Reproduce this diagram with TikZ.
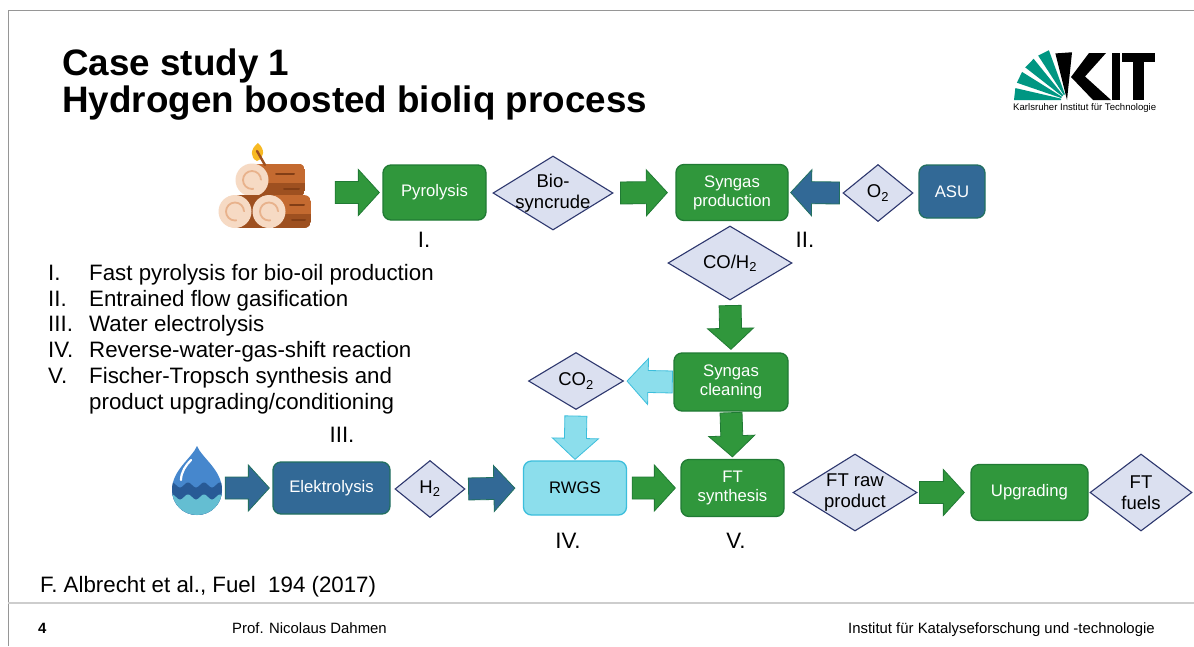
\documentclass[tikz,border=0pt]{standalone}
\usepackage{fontspec}
\setmainfont{Liberation Sans}
\usetikzlibrary{calc,shapes.geometric}

\definecolor{procgreen}{RGB}{48,151,60}
\definecolor{procgreenline}{RGB}{32,122,52}
\definecolor{procblue}{RGB}{50,105,150}
\definecolor{procblueline}{RGB}{34,112,96}
\definecolor{proccyan}{RGB}{140,222,236}
\definecolor{proccyanline}{RGB}{60,190,220}
\definecolor{streamfill}{RGB}{219,224,240}
\definecolor{streamline}{RGB}{45,55,110}
\definecolor{kitgreen}{RGB}{0,150,130}
\definecolor{framegray}{RGB}{150,150,150}
\definecolor{rulegray}{RGB}{205,205,205}
\definecolor{waterblue}{RGB}{70,135,205}
\definecolor{waterdark}{RGB}{40,90,150}
\definecolor{waterlight}{RGB}{100,190,210}
\definecolor{logbrown}{RGB}{196,106,48}
\definecolor{logdark}{RGB}{158,80,32}
\definecolor{logstreak}{RGB}{130,62,22}
\definecolor{logend}{RGB}{246,218,196}
\definecolor{logringcol}{RGB}{232,178,140}
\definecolor{leafyellow}{RGB}{247,185,35}

\tikzset{
  proc/.style={rectangle, rounded corners=8pt, line width=1.3pt, text=white,
    align=center, font=\fontsize{16.7}{19}\selectfont, inner sep=0pt},
  greenproc/.style={proc, fill=procgreen, draw=procgreenline},
  blueproc/.style={proc, fill=procblue, draw=procblueline},
  cyanproc/.style={proc, fill=proccyan, draw=proccyanline, text=black},
  stream/.style={diamond, fill=streamfill, draw=streamline, line width=1.1pt, inner sep=0pt},
  streamtext/.style={font=\fontsize{18.5}{21}\selectfont, align=center, text=black, inner sep=0pt},
  roman/.style={font=\fontsize{22.3}{25}\selectfont, inner sep=0pt},
  listtext/.style={font=\fontsize{22.3}{25}\selectfont, anchor=base west, inner sep=0pt},
  footer/.style={font=\fontsize{14.9}{17}\selectfont, anchor=base west, inner sep=0pt},
  garrow/.style={fill=procgreen, draw=procgreenline, line width=0.8pt},
  barrow/.style={fill=procblue, draw=procblueline, line width=0.8pt},
  carrow/.style={fill=proccyan, draw=proccyanline, line width=0.8pt},
  ringstroke/.style={draw=logringcol, line width=1.8pt, dash pattern=on 44pt off 12pt},
}

% block arrow between two anchors: style, from, to, gap at start, gap at end
\newcommand\flowarrow[5]{%
  \coordinate (fa-s) at ($(#2)!#4pt!(#3)$);
  \coordinate (fa-e) at ($(#3)!#5pt!(#2)$);
  \coordinate (fa-h) at ($(fa-e)!21pt!(fa-s)$);
  \draw[#1] ($(fa-s)!11pt!90:(fa-e)$) -- ($(fa-h)!11pt!90:(fa-e)$)
    -- ($(fa-h)!23pt!90:(fa-e)$) -- (fa-e) -- ($(fa-h)!23pt!-90:(fa-e)$)
    -- ($(fa-h)!11pt!-90:(fa-e)$) -- ($(fa-s)!11pt!-90:(fa-e)$) -- cycle;
}

\begin{document}
\begin{tikzpicture}[x=1pt,y=-1pt]
\useasboundingbox (0,0) rectangle (1194,646);
\fill[white] (0,0) rectangle (1194,646);

% slide frame and footer rule
\draw[framegray, line width=1pt] (8,646) -- (8,10) -- (1194,10);
\draw[rulegray, line width=2pt] (8,603) -- (1194,603);

% title
\node[anchor=base west, inner sep=0pt, font=\bfseries\fontsize{36.8}{40}\selectfont] (title1) at (62,75) {Case study 1};
\node[anchor=base west, inner sep=0pt, font=\bfseries\fontsize{36.8}{40}\selectfont] (title2) at (62,112.5) {Hydrogen boosted bioliq process};

% KIT logo
\coordinate (kito) at (1067,100);
\foreach \a/\b in {180/193, 199/212, 218/231, 237/250}
  \fill[kitgreen] ($(kito)+(\a:6)$) -- ($(kito)+(\a:53)$) -- ($(kito)+(\b:53)$) -- ($(kito)+(\b:6)$) -- cycle;
\fill[black] (kito) -- ($(kito)+(256:48)$) -- ($(kito)+(276:48)$) -- cycle;
\fill[black] (1089,53) -- (1106,53) -- (1085,76.5) -- (1111,100) -- (1093,100) -- (1071,77) -- cycle;
\fill[black] (1112,53) rectangle (1120,100);
\fill[black] (1122,53) rectangle (1155,62);
\fill[black] (1133,53) rectangle (1144,100);
\node[anchor=base west, inner sep=0pt, font=\fontsize{9.6}{11}\selectfont] (kitsub) at (1013,110) {Karlsruher Institut für Technologie};

% wood logs
\node[minimum width=93pt, minimum height=84pt, inner sep=0pt] (wood) at (264.5,192.5) {};
\begin{scope}
  \clip[rounded corners=7pt] (252,163.5) rectangle (305,196.5);
  \fill[logbrown] (252,163.5) rectangle (305,196.5);
  \fill[logdark] (252,183) rectangle (305,196.5);
\end{scope}
\draw[logstreak, line width=2pt, line cap=round] (276,174) -- (294,174) (284,189) -- (299,189);
\fill[logend] (252,180) circle[radius=16.5pt];
\draw[ringstroke] (252,180) circle[radius=9pt];
\fill[logdark] (235,195) rectangle (270,228);
\begin{scope}
  \clip[rounded corners=7pt] (269,195) rectangle (311,228);
  \fill[logbrown] (269,195) rectangle (311,228);
  \fill[logdark] (269,214) rectangle (311,228);
\end{scope}
\draw[logstreak, line width=2pt, line cap=round] (290,205) -- (304,205) (292,220) -- (305,220);
\foreach \cx in {235,269} {
  \fill[logend] (\cx,211.5) circle[radius=16.5pt];
  \draw[ringstroke] (\cx,211.5) circle[radius=9pt];
}
\fill[leafyellow] (258,143) .. controls (250,149) and (250,158) .. (257,161) .. controls (265,158) and (265,149) .. (258,143) -- cycle;
\draw[logdark, line width=2.4pt, line cap=round] (257,151) -- (265,165);

% water drop
\node[circle, minimum size=50pt, inner sep=0pt] (water) at (197,488) {};
\begin{scope}
  \clip (197,446) .. controls (192,458) and (172,470) .. (172,490)
    .. controls (172,504) and (183,515) .. (197,515)
    .. controls (211,515) and (222,504) .. (222,490)
    .. controls (222,470) and (202,458) .. (197,446) -- cycle;
  \fill[waterblue] (165,440) rectangle (230,520);
  \fill[waterdark] plot[domain=168:226, samples=60] (\x, {485+2.5*sin(\x*22.5)}) -- (226,520) -- (168,520) -- cycle;
  \fill[waterlight] plot[domain=168:226, samples=60] (\x, {497+2.5*sin(\x*22.5)}) -- (226,520) -- (168,520) -- cycle;
\end{scope}
\draw[white, line width=2.2pt, line cap=round] (181,480) .. controls (181,472) and (186,465) .. (191,460);

% process units
\node[greenproc, minimum width=103pt, minimum height=55pt] (pyro) at (434.5,192.5) {Pyrolysis};
\node[greenproc, minimum width=112pt, minimum height=56pt] (synp) at (732,192.5) {Syngas\\production};
\node[blueproc, minimum width=66pt, minimum height=53pt] (asu) at (952,191.5) {ASU};
\node[greenproc, minimum width=114pt, minimum height=58pt] (syncl) at (731,382) {Syngas\\cleaning};
\node[blueproc, minimum width=117pt, minimum height=52pt] (elek) at (331.5,488) {Elektrolysis};
\node[cyanproc, minimum width=103pt, minimum height=54pt] (rwgs) at (575,488) {RWGS};
\node[greenproc, minimum width=103pt, minimum height=57pt] (ftsyn) at (732.5,488) {FT\\synthesis};
\node[greenproc, minimum width=117pt, minimum height=56pt] (upg) at (1029.5,492.5) {Upgrading};

% streams
\node[stream, minimum width=120pt, minimum height=74pt, label={[streamtext]center:{Bio-\\syncrude}}] (bio) at (553,193) {};
\node[stream, minimum width=70pt, minimum height=57pt, label={[streamtext]center:{O\textsubscript{2}}}] (o2) at (878,193) {};
\node[stream, minimum width=124pt, minimum height=74pt, label={[streamtext]center:{CO/H\textsubscript{2}}}] (coh2) at (730,263) {};
\node[stream, minimum width=95pt, minimum height=57pt, label={[streamtext]center:{CO\textsubscript{2}}}] (co2) at (576,381) {};
\node[stream, minimum width=70pt, minimum height=57pt, label={[streamtext]center:{H\textsubscript{2}}}] (h2) at (430,489) {};
\node[stream, minimum width=124pt, minimum height=77pt, label={[streamtext]center:{FT raw\\product}}] (ftraw) at (855,492.5) {};
\node[stream, minimum width=102pt, minimum height=77pt, label={[streamtext]center:{FT\\fuels}}] (ftfuel) at (1141,492.5) {};

% flows
\flowarrow{garrow}{wood.east}{pyro.west}{24}{3}
\flowarrow{garrow}{bio.east}{synp.west}{7}{8}
\flowarrow{barrow}{o2.west}{synp.east}{3}{2}
\flowarrow{garrow}{coh2.south}{syncl.north}{5}{3}
\flowarrow{carrow}{syncl.west}{co2.east}{1}{3}
\flowarrow{carrow}{co2.south}{rwgs.north}{6}{1}
\flowarrow{garrow}{syncl.south}{ftsyn.north}{1}{2}
\flowarrow{barrow}{water.east}{elek.west}{3}{3}
\flowarrow{barrow}{h2.east}{rwgs.west}{3}{8}
\flowarrow{garrow}{rwgs.east}{ftsyn.west}{5}{5}
\flowarrow{garrow}{ftraw.east}{upg.west}{2}{6}

% step numbers
\node[roman] (r1) at (424,240) {I.};
\node[roman] (r2) at (805,240) {II.};
\node[roman] (r3) at (342,435) {III.};
\node[roman] (r4) at (568,541) {IV.};
\node[roman] (r5) at (736,541) {V.};

% legend
\node[listtext] (n1) at (48,280) {I.};
\node[listtext] (t1) at (89,280) {Fast pyrolysis for bio-oil production};
\node[listtext] (n2) at (48,306) {II.};
\node[listtext] (t2) at (89,306) {Entrained flow gasification};
\node[listtext] (n3) at (48,331.5) {III.};
\node[listtext] (t3) at (89,331.5) {Water electrolysis};
\node[listtext] (n4) at (48,357) {IV.};
\node[listtext] (t4) at (89,357) {Reverse-water-gas-shift reaction};
\node[listtext] (n5) at (48,383) {V.};
\node[listtext] (t5) at (89,383) {Fischer-Tropsch synthesis and};
\node[listtext] (t6) at (89,409) {product upgrading/conditioning};

% reference and footer
\node[listtext] (ref) at (40,592) {F. Albrecht et al., Fuel\ \ 194 (2017)};
\node[footer, font=\bfseries\fontsize{14.9}{17}\selectfont] (page) at (38,633) {4};
\node[footer] (author) at (232,633) {Prof. Nicolaus Dahmen};
\node[footer] (inst) at (848,633) {Institut für Katalyseforschung und -technologie};
\end{tikzpicture}
\end{document}
